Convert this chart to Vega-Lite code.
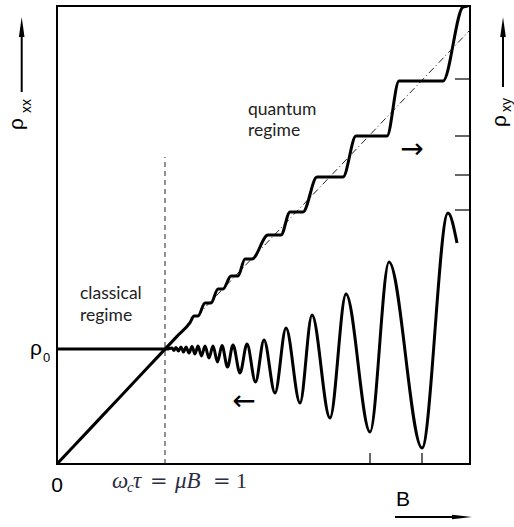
{
  "$schema": "https://vega.github.io/schema/vega-lite/v6.json",
  "width": 413,
  "height": 458,
  "autosize": {"type": "none"},
  "padding": {"left": 57, "top": 6, "right": 44, "bottom": 63},
  "background": "white",
  "config": {"view": {"stroke": "black", "strokeWidth": 2}},
  "datasets": {
    "rxx": [
      {"b": 0, "r": 115}, {"b": 60, "r": 115}, {"b": 110, "r": 115},
      {"b": 115, "r": 116}, {"b": 117, "r": 113.5}, {"b": 119, "r": 116.5}, {"b": 121.5, "r": 113},
      {"b": 124, "r": 117}, {"b": 126.5, "r": 112}, {"b": 129, "r": 117}, {"b": 132, "r": 111},
      {"b": 135, "r": 117.5}, {"b": 138, "r": 110}, {"b": 141, "r": 118}, {"b": 144.5, "r": 108},
      {"b": 148, "r": 118}, {"b": 152, "r": 106}, {"b": 156, "r": 118}, {"b": 160.5, "r": 102},
      {"b": 165, "r": 118.5}, {"b": 170.5, "r": 97}, {"b": 176, "r": 119}, {"b": 183, "r": 91},
      {"b": 190, "r": 120}, {"b": 198.5, "r": 82}, {"b": 207, "r": 124}, {"b": 218, "r": 71},
      {"b": 229, "r": 136}, {"b": 243, "r": 61}, {"b": 255, "r": 149}, {"b": 273, "r": 46},
      {"b": 289, "r": 170}, {"b": 313, "r": 32}, {"b": 332, "r": 202}, {"b": 365, "r": 16},
      {"b": 391, "r": 251}, {"b": 400, "r": 221}
    ],
    "rxy": [
      {"b": 0, "r": 0}, {"b": 30, "r": 31.9}, {"b": 60, "r": 63.8}, {"b": 90, "r": 95.7},
      {"b": 120, "r": 127.6}, {"b": 133, "r": 141.4},
      {"b": 137, "r": 148}, {"b": 141, "r": 148},
      {"b": 148, "r": 161}, {"b": 154, "r": 161},
      {"b": 161, "r": 175}, {"b": 166, "r": 175},
      {"b": 174, "r": 188}, {"b": 181, "r": 188},
      {"b": 188, "r": 205}, {"b": 195, "r": 205},
      {"b": 211, "r": 229}, {"b": 224, "r": 229},
      {"b": 233, "r": 252}, {"b": 246, "r": 252},
      {"b": 260, "r": 287}, {"b": 286, "r": 287},
      {"b": 299, "r": 328}, {"b": 330, "r": 328},
      {"b": 342, "r": 383}, {"b": 386, "r": 383},
      {"b": 406, "r": 457}, {"b": 411, "r": 458}
    ],
    "trend": [{"b": 140, "r": 148}, {"b": 413, "r": 434}],
    "vline": [{"b": 108, "r": 0, "r2": 307}],
    "rticks": [
      {"b": 398, "b2": 413, "r": 385}, {"b": 398, "b2": 413, "r": 328},
      {"b": 398, "b2": 413, "r": 289}, {"b": 398, "b2": 413, "r": 254}
    ],
    "bticks": [{"b": 313, "r": 0, "r2": 11}, {"b": 365, "r": 0, "r2": 11}],
    "shaftsV": [{"b": -35.3, "r": 372, "r2": 428}, {"b": 446, "r": 377, "r2": 428}],
    "headsUp": [{"b": -35.3, "r": 437}, {"b": 446, "r": 437}],
    "shaftsH": [{"b": 338, "b2": 398, "r": -53}],
    "headsRight": [{"b": 405, "r": -53}],
    "labels16": [
      {"t": "classical", "b": 23, "r": 165}, {"t": "regime", "b": 23, "r": 143},
      {"t": "quantum", "b": 191, "r": 349}, {"t": "regime", "b": 191, "r": 328}
    ],
    "labelsBig": [
      {"t": "0", "b": 0, "r": -28}, {"t": "B", "b": 346, "r": -42}, {"t": "ρ", "b": -21, "r": 109}
    ],
    "sub0": [{"t": "0", "b": -10.5, "r": 102}],
    "rotRho": [{"t": "ρ", "b": -40, "r": 340}, {"t": "ρ", "b": 443, "r": 343}],
    "rotSub": [{"t": "xx", "b": -30, "r": 358}, {"t": "xy", "b": 450, "r": 359}],
    "arrowsTxt": [{"t": "→", "b": 355, "r": 314}, {"t": "←", "b": 187, "r": 62}],
    "fIt": [{"t": "ω", "b": 55, "r": -24}, {"t": "τ", "b": 76, "r": -24}, {"t": "μB", "b": 118, "r": -24}],
    "fEq": [{"t": "=", "b": 93, "r": -24}, {"t": "=", "b": 156, "r": -24}],
    "fOne": [{"t": "1", "b": 179, "r": -24}],
    "fSub": [{"t": "c", "b": 70, "r": -28}]
  },
  "layer": [
    {
      "data": {"name": "vline"},
      "mark": {"type": "rule", "strokeDash": [5, 4], "strokeWidth": 1, "color": "#222"},
      "encoding": {
        "x": {"field": "b", "type": "quantitative", "scale": {"domain": [0, 413], "nice": false, "zero": false}, "axis": null},
        "y": {"field": "r", "type": "quantitative", "scale": {"domain": [0, 458], "nice": false, "zero": false}, "axis": null},
        "y2": {"field": "r2"}
      }
    },
    {
      "data": {"name": "trend"},
      "mark": {"type": "line", "strokeDash": [7, 3, 1, 3], "strokeWidth": 1, "color": "#222"},
      "encoding": {
        "x": {"field": "b", "type": "quantitative"},
        "y": {"field": "r", "type": "quantitative"}
      }
    },
    {
      "data": {"name": "rxx"},
      "mark": {"type": "line", "interpolate": "monotone", "strokeWidth": 3, "color": "black"},
      "encoding": {
        "x": {"field": "b", "type": "quantitative"},
        "y": {"field": "r", "type": "quantitative"}
      }
    },
    {
      "data": {"name": "rxy"},
      "mark": {"type": "line", "interpolate": "monotone", "strokeWidth": 3, "color": "black", "clip": true},
      "encoding": {
        "x": {"field": "b", "type": "quantitative"},
        "y": {"field": "r", "type": "quantitative"}
      }
    },
    {
      "data": {"name": "rticks"},
      "mark": {"type": "rule", "strokeWidth": 1.2, "color": "black"},
      "encoding": {
        "x": {"field": "b", "type": "quantitative"},
        "x2": {"field": "b2"},
        "y": {"field": "r", "type": "quantitative"}
      }
    },
    {
      "data": {"name": "bticks"},
      "mark": {"type": "rule", "strokeWidth": 1.2, "color": "black"},
      "encoding": {
        "x": {"field": "b", "type": "quantitative"},
        "y": {"field": "r", "type": "quantitative"},
        "y2": {"field": "r2"}
      }
    },
    {
      "data": {"name": "shaftsV"},
      "mark": {"type": "rule", "strokeWidth": 2, "color": "black"},
      "encoding": {
        "x": {"field": "b", "type": "quantitative"},
        "y": {"field": "r", "type": "quantitative"},
        "y2": {"field": "r2"}
      }
    },
    {
      "data": {"name": "headsUp"},
      "mark": {"type": "point", "shape": "M -0.28 1 L 0 -1 L 0.28 1 Z", "size": 400, "filled": true, "color": "black", "opacity": 1, "strokeWidth": 0},
      "encoding": {
        "x": {"field": "b", "type": "quantitative"},
        "y": {"field": "r", "type": "quantitative"}
      }
    },
    {
      "data": {"name": "shaftsH"},
      "mark": {"type": "rule", "strokeWidth": 2, "color": "black"},
      "encoding": {
        "x": {"field": "b", "type": "quantitative"},
        "x2": {"field": "b2"},
        "y": {"field": "r", "type": "quantitative"}
      }
    },
    {
      "data": {"name": "headsRight"},
      "mark": {"type": "point", "shape": "M -1 -0.22 L 1 0 L -1 0.22 Z", "size": 400, "filled": true, "color": "black", "opacity": 1, "strokeWidth": 0},
      "encoding": {
        "x": {"field": "b", "type": "quantitative"},
        "y": {"field": "r", "type": "quantitative"}
      }
    },
    {
      "data": {"name": "labels16"},
      "mark": {"type": "text", "font": "Lato", "fontSize": 17.5, "align": "left", "baseline": "alphabetic", "color": "#222"},
      "encoding": {
        "x": {"field": "b", "type": "quantitative"},
        "y": {"field": "r", "type": "quantitative"},
        "text": {"field": "t"}
      }
    },
    {
      "data": {"name": "labelsBig"},
      "mark": {"type": "text", "font": "Liberation Sans", "fontSize": 21, "align": "center", "baseline": "alphabetic", "color": "black"},
      "encoding": {
        "x": {"field": "b", "type": "quantitative"},
        "y": {"field": "r", "type": "quantitative"},
        "text": {"field": "t"}
      }
    },
    {
      "data": {"name": "sub0"},
      "mark": {"type": "text", "font": "Liberation Sans", "fontSize": 13, "align": "center", "baseline": "alphabetic", "color": "black"},
      "encoding": {
        "x": {"field": "b", "type": "quantitative"},
        "y": {"field": "r", "type": "quantitative"},
        "text": {"field": "t"}
      }
    },
    {
      "data": {"name": "rotRho"},
      "mark": {"type": "text", "font": "Liberation Sans", "fontSize": 21, "angle": 270, "align": "center", "baseline": "middle", "color": "black"},
      "encoding": {
        "x": {"field": "b", "type": "quantitative"},
        "y": {"field": "r", "type": "quantitative"},
        "text": {"field": "t"}
      }
    },
    {
      "data": {"name": "rotSub"},
      "mark": {"type": "text", "font": "Liberation Sans", "fontSize": 14, "angle": 270, "align": "center", "baseline": "middle", "color": "black"},
      "encoding": {
        "x": {"field": "b", "type": "quantitative"},
        "y": {"field": "r", "type": "quantitative"},
        "text": {"field": "t"}
      }
    },
    {
      "data": {"name": "arrowsTxt"},
      "mark": {"type": "text", "font": "DejaVu Sans", "fontSize": 28, "align": "center", "baseline": "middle", "color": "black"},
      "encoding": {
        "x": {"field": "b", "type": "quantitative"},
        "y": {"field": "r", "type": "quantitative"},
        "text": {"field": "t"}
      }
    },
    {
      "data": {"name": "fIt"},
      "mark": {"type": "text", "font": "Liberation Serif", "fontStyle": "italic", "fontSize": 23, "align": "left", "baseline": "alphabetic", "color": "#2c2c44"},
      "encoding": {
        "x": {"field": "b", "type": "quantitative"},
        "y": {"field": "r", "type": "quantitative"},
        "text": {"field": "t"}
      }
    },
    {
      "data": {"name": "fEq"},
      "mark": {"type": "text", "font": "DejaVu Serif", "fontSize": 21, "align": "left", "baseline": "alphabetic", "color": "#2c2c44"},
      "encoding": {
        "x": {"field": "b", "type": "quantitative"},
        "y": {"field": "r", "type": "quantitative"},
        "text": {"field": "t"}
      }
    },
    {
      "data": {"name": "fOne"},
      "mark": {"type": "text", "font": "Liberation Serif", "fontSize": 22, "align": "left", "baseline": "alphabetic", "color": "#2c2c44"},
      "encoding": {
        "x": {"field": "b", "type": "quantitative"},
        "y": {"field": "r", "type": "quantitative"},
        "text": {"field": "t"}
      }
    },
    {
      "data": {"name": "fSub"},
      "mark": {"type": "text", "font": "Liberation Serif", "fontStyle": "italic", "fontSize": 15, "align": "left", "baseline": "alphabetic", "color": "#2c2c44"},
      "encoding": {
        "x": {"field": "b", "type": "quantitative"},
        "y": {"field": "r", "type": "quantitative"},
        "text": {"field": "t"}
      }
    }
  ]
}
